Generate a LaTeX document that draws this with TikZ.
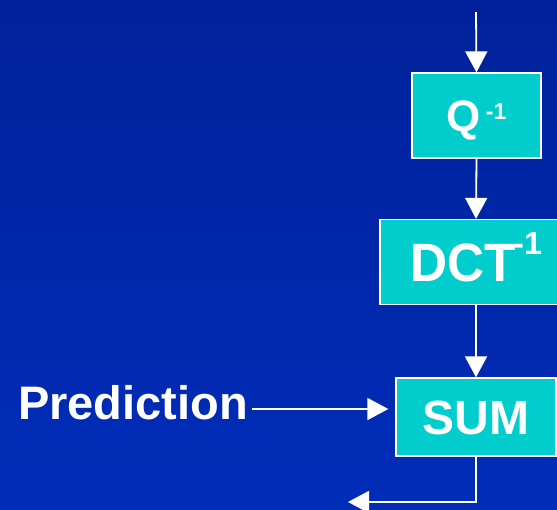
\documentclass[tikz,border=0pt]{standalone}
\usepackage{fontspec}
\setmainfont{Liberation Sans}
\usepackage{tikz}
\usetikzlibrary{arrows.meta}

\begin{document}
\begin{tikzpicture}[x=1pt, y=-1pt,
		block/.style={
			rectangle, draw=white, fill=blockcol, line width=1.3pt,
			inner sep=0pt, text=white, text depth=0pt
		},
		flow/.style={
			draw=white, line width=1.8pt,
			-{Triangle[length=21pt, width=22pt]}
		},
		caption/.style={
			inner sep=0pt, text=white, text height=34pt, text depth=0pt,
			font=\fontsize{47}{50}\selectfont\bfseries
		}
		]
		
		\definecolor{bgtop}{HTML}{00219A}
		\definecolor{bgbottom}{HTML}{002DB9}
		\definecolor{blockcol}{HTML}{00CDCC}
		
		% background
		\shade[top color=bgtop, bottom color=bgbottom] (0,0) rectangle (557,509);
		\clip (0,0) rectangle (557,509);
		
		\node[block, minimum width=129pt, minimum height=85pt, text height=31pt,
			font=\fontsize{44}{46}\selectfont\bfseries] (q) at (476.5,115.5)
			{Q\kern5pt\raisebox{12pt}{\fontsize{23}{23}\selectfont -1}};
		\node[block, minimum width=192pt, minimum height=85pt, text height=39pt,
			font=\fontsize{54}{56}\selectfont\bfseries] (dct) at (476,262)
			{\scalebox{0.95}[1]{DCT}\kern-2pt\raisebox{27pt}{\fontsize{32}{32}\selectfont -1}};
		\node[block, minimum width=160pt, minimum height=78pt, text height=35pt,
			font=\fontsize{48}{50}\selectfont\bfseries] (sum) at (476,417) {SUM};
		
		\node[caption, anchor=base west] (pred) at (18,419) {Prediction};
		
		\coordinate (in)  at (476,12);
		\coordinate (out) at (348,502);
		
		\draw[flow] (in) -- (q.north);
		\draw[flow] (q.south) -- (dct.north);
		\draw[flow] (dct.south) -- (sum.north);
		\draw[flow] ([xshift=4pt, yshift=-7pt]pred.east)
			-- ([xshift=-7pt, yshift=-7pt]pred.east -| sum.west);
		\draw[flow] (sum.south) |- (out);
		
	\end{tikzpicture}
\end{document}
